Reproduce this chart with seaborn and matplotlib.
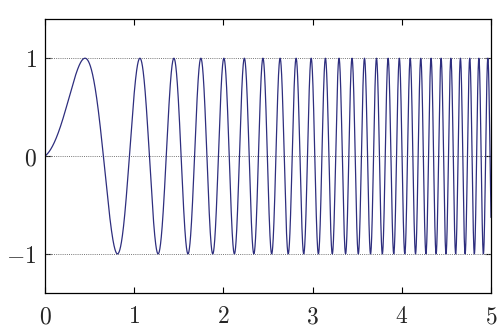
import numpy as np
import pandas as pd
import seaborn as sns
import matplotlib
matplotlib.use("Agg")
import matplotlib.pyplot as plt

# Chirp signal y = sin(phase(t)), phase = a*t^2 + b*t  (coefficients read from the peak positions)
chirp_quadratic = 6.3
chirp_linear = 0.68
t_range = [0.0, 5.0]
x_ticks = [0, 1, 2, 3, 4, 5]
x_tick_labels = ["0", "1", "2", "3", "4", "5"]
y_ticks = [-1, 0, 1]
y_tick_labels = ["-1", "0", "1"]

t = np.linspace(t_range[0], t_range[1], 6000)
y = np.sin(chirp_quadratic * t**2 + chirp_linear * t)
df = pd.DataFrame({"t": t, "y": y})

sns.set_theme(style="white")
plt.rcParams["font.family"] = ["DejaVu Serif"]
plt.rcParams["mathtext.fontset"] = "cm"

fig = plt.figure(figsize=(5, 3.35), dpi=100)
ax = fig.add_axes([0.09, 0.1254, 0.892, 0.8176])

for yv in y_ticks:
    ax.axhline(yv, color="#777777", lw=0.7, ls=(0, (1, 1.2)), zorder=1)

sns.lineplot(data=df, x="t", y="y", ax=ax, color="#2e2e7e", lw=0.9, zorder=2)

ax.set_xlim(0, 5)
ax.set_ylim(-1.4, 1.4)
ax.set_xticks(x_ticks)
ax.set_xticklabels(["$" + s + "$" for s in x_tick_labels])
ax.set_yticks(y_ticks)
ax.set_yticklabels(["$" + s + "$" for s in y_tick_labels])
ax.set_xlabel("")
ax.set_ylabel("")
ax.tick_params(direction="in", length=4, width=0.8, color="black",
               top=True, right=True, bottom=True, left=True, labelsize=17)
ax.tick_params(axis="x", pad=9)
ax.tick_params(axis="y", pad=6)
for s in ax.spines.values():
    s.set_color("black")
    s.set_linewidth(0.9)
ax.grid(False)

fig.savefig("out.png", dpi=100)
